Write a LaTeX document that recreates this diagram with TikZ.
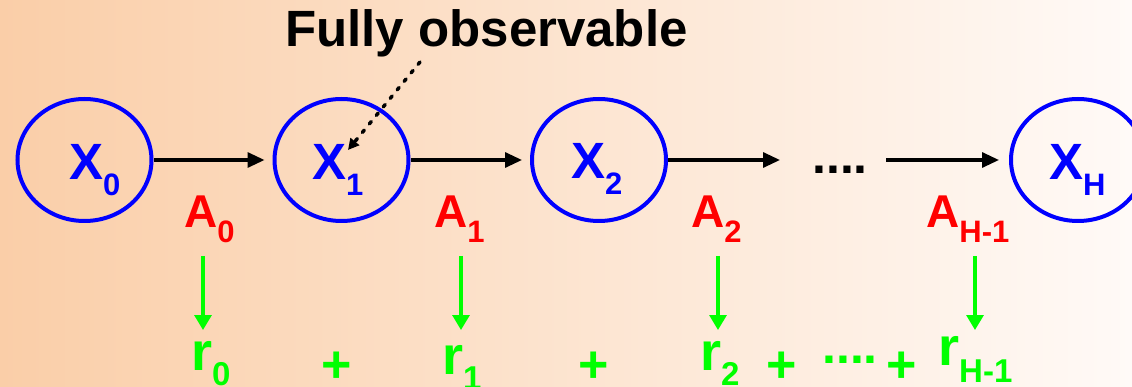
\documentclass[tikz,border=0pt]{standalone}
\usepackage{fontspec}
\setmainfont{Liberation Sans}
\usetikzlibrary{shapes.geometric,arrows.meta}
\definecolor{bgl}{RGB}{250,206,168}
\definecolor{bgr}{RGB}{255,250,247}
\definecolor{xblue}{RGB}{0,0,255}
\definecolor{ared}{RGB}{255,0,0}
\definecolor{rgreen}{RGB}{0,255,0}
\newcommand\lowsub[3]{\raisebox{-#2pt}{\fontsize{#1}{#1}\selectfont #3}}
\begin{document}
\begin{tikzpicture}[x=1pt,y=-1pt,
  state/.style={ellipse,draw=xblue,line width=4pt,minimum width=134pt,minimum height=122pt,inner sep=0pt},
  txt/.style={anchor=base west,inner sep=0pt},
  xlab/.style={txt,text=xblue,font=\bfseries\fontsize{51}{51}\selectfont},
  alab/.style={txt,text=ared,font=\bfseries\fontsize{46}{46}\selectfont},
  rlab/.style={txt,text=rgreen,font=\bfseries\fontsize{54}{54}\selectfont},
  glyph/.style={txt,text=rgreen,font=\bfseries\fontsize{52}{52}\selectfont},
  flow/.style={line width=3.2pt,-{Triangle[length=17pt,width=15pt]}},
  rew/.style={line width=3.2pt,draw=rgreen,-{Triangle[length=15pt,width=17pt]}},
  obs/.style={line width=3.5pt,dash pattern=on 3pt off 8pt,line cap=round,-{Triangle[length=11pt,width=11pt]}}
]
\useasboundingbox (0,0) rectangle (1132,387);
\clip (0,0) rectangle (1132,387);
\shade[left color=bgl,right color=bgr] (0,0) rectangle (1132,387);

% states
\node[state] (X0) at (84.5,160) {};
\node[state] (X1) at (341.5,160) {};
\node[state] (X2) at (599,160) {};
\node[state] (XH) at (1078,160) {};

% state labels
\node[xlab] (lx0) at (69,180) {X\lowsub{31}{16}{0}};
\node[xlab] (lx1) at (312,180) {X\lowsub{31}{16}{1}};
\node[xlab] (lx2) at (571,179) {X\lowsub{31}{16}{2}};
\node[xlab] (lxh) at (1049,180) {X\lowsub{31}{16}{H}};

% dots in chain
\node[txt,font=\bfseries\fontsize{50}{50}\selectfont] (dots) at (812,174) {....};
\coordinate (d1) at (780,160);
\coordinate (d2) at (886,160);

% transitions
\draw[flow,shorten >=8pt] (X0.east) -- (X1.west);
\draw[flow,shorten >=8pt] (X1.east) -- (X2.west);
\draw[flow] (X2.east) -- (d1);
\draw[flow,shorten >=10pt] (d2) -- (XH.west);

% actions
\node[alab] (a0) at (184,228) {A\lowsub{31}{15}{0}};
\node[alab] (a1) at (434,228) {A\lowsub{31}{15}{1}};
\node[alab] (a2) at (691,228) {A\lowsub{31}{15}{2}};
\node[alab] (ah) at (926,228) {A\lowsub{31}{15}{H-1}};

% rewards arrows
\coordinate (g0s) at (203,256); \coordinate (g0e) at (203,330);
\coordinate (g1s) at (461,256); \coordinate (g1e) at (461,330);
\coordinate (g2s) at (718,256); \coordinate (g2e) at (718,330);
\coordinate (g3s) at (975,256); \coordinate (g3e) at (975,330);
\draw[rew] (g0s) -- (g0e);
\draw[rew] (g1s) -- (g1e);
\draw[rew] (g2s) -- (g2e);
\draw[rew] (g3s) -- (g3e);

% rewards
\node[rlab] (r0) at (191,370) {r\lowsub{33}{15}{0}};
\node[rlab] (r1) at (442,374) {r\lowsub{33}{15}{1}};
\node[rlab] (r2) at (700,370) {r\lowsub{33}{15}{2}};
\node[rlab] (rh) at (938,365) {r\lowsub{33}{17}{H-1}};

\node[glyph] (p1) at (321,382) {+};
\node[glyph] (p2) at (578,382) {+};
\node[glyph] (p3) at (766,382) {+};
\node[glyph] (p4) at (886,382) {+};
\node[txt,text=rgreen,font=\bfseries\fontsize{50}{50}\selectfont] (gd) at (822,363) {....};

% fully observable
\node[txt,font=\bfseries\fontsize{51}{51}\selectfont] (fo) at (285,47) {Fully observable};
\coordinate (os) at (420,62);
\coordinate (oe) at (348,150);
\draw[obs] (os) -- (oe);
\end{tikzpicture}
\end{document}
